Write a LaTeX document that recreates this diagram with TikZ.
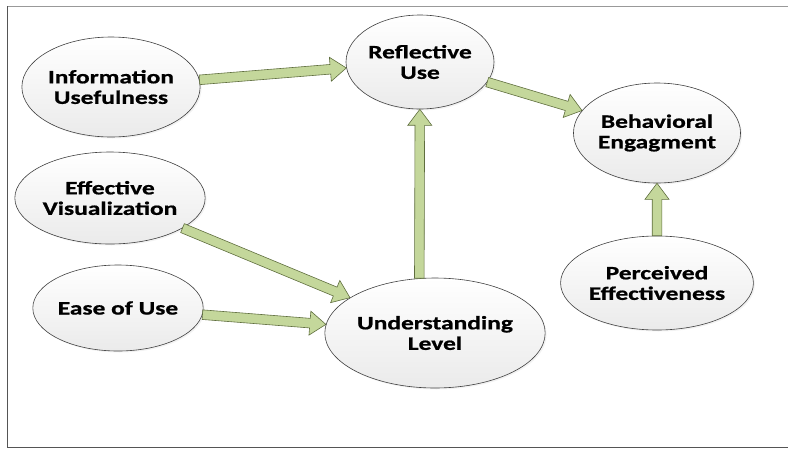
\documentclass[tikz,border=0pt]{standalone}
\usepackage{fontspec}
\newfontfamily\nodefont{Carlito}[FakeStretch=1.34, FakeBold=0.8]
\usetikzlibrary{shapes.geometric, calc, shadows}
\definecolor{ArrowGreen}{HTML}{C4D79B}
\definecolor{ArrowEdge}{HTML}{5F6E3E}
\definecolor{FrameGray}{HTML}{555555}
\tikzset{
  construct/.style={ellipse, draw=black!75, line width=0.6pt, top color=white, bottom color=black!8, inner sep=0pt, align=center, font=\nodefont\bfseries\fontsize{19}{20.5}\selectfont, drop shadow={opacity=0.1, shadow xshift=1.5pt, shadow yshift=-1.5pt}},
  arrow/.style={draw=ArrowEdge, fill=ArrowGreen, line width=0.6pt, line join=miter}
}
% block arrow from node #1 to node #2
\newcommand{\fatarrow}[2]{%
  \path (#1) -- (#2) coordinate[pos=0] (fa-s) coordinate[pos=1] (fa-e);
  \coordinate (fa-h) at ($(fa-e)!16pt!(fa-s)$);
  \draw [arrow] ($(fa-s)!4.8pt!90:(fa-e)$) -- ($(fa-h)!4.8pt!90:(fa-e)$) -- ($(fa-h)!12pt!90:(fa-e)$)
    -- (fa-e) -- ($(fa-h)!12pt!-90:(fa-e)$) -- ($(fa-h)!4.8pt!-90:(fa-e)$) -- ($(fa-s)!4.8pt!-90:(fa-e)$) -- cycle;
}

\begin{document}
\begin{tikzpicture}[x=1pt, y=-1pt]
  \useasboundingbox (0,0) rectangle (788,448);
  % frame
  \draw [FrameGray!60, line width=1pt] (7,6) -- (788,6);
  \draw [FrameGray, line width=1pt] (7,6) -- (7,447) -- (788,447);

  \node (info) [construct, minimum width=172pt, minimum height=100pt] at (111,87) {Information\\Usefulness};
  \node (refl) [construct, minimum width=148pt, minimum height=94pt] at (420,62) {Reflective\\Use};
  \node (behav) [construct, minimum width=160pt, minimum height=100pt] at (657,133) {Behavioral\\Engagment};
  \node (effvis) [construct, minimum width=166pt, minimum height=92pt] at (110,198) {Effective\\Visualization};
  \node (ease) [construct, minimum width=146pt, minimum height=86pt] at (118,308) {Ease of Use};
  \node (under) [construct, minimum width=178pt, minimum height=110pt] at (435,333) {Understanding\\Level};
  \node (perc) [construct, minimum width=152pt, minimum height=94pt] at (657,283) {Perceived\\Effectiveness};

  \fatarrow{info}{refl}
  \fatarrow{refl}{behav}
  \fatarrow{effvis}{under}
  \fatarrow{ease}{under}
  \fatarrow{under.106}{refl}
  \fatarrow{perc}{behav}
\end{tikzpicture}
\end{document}
